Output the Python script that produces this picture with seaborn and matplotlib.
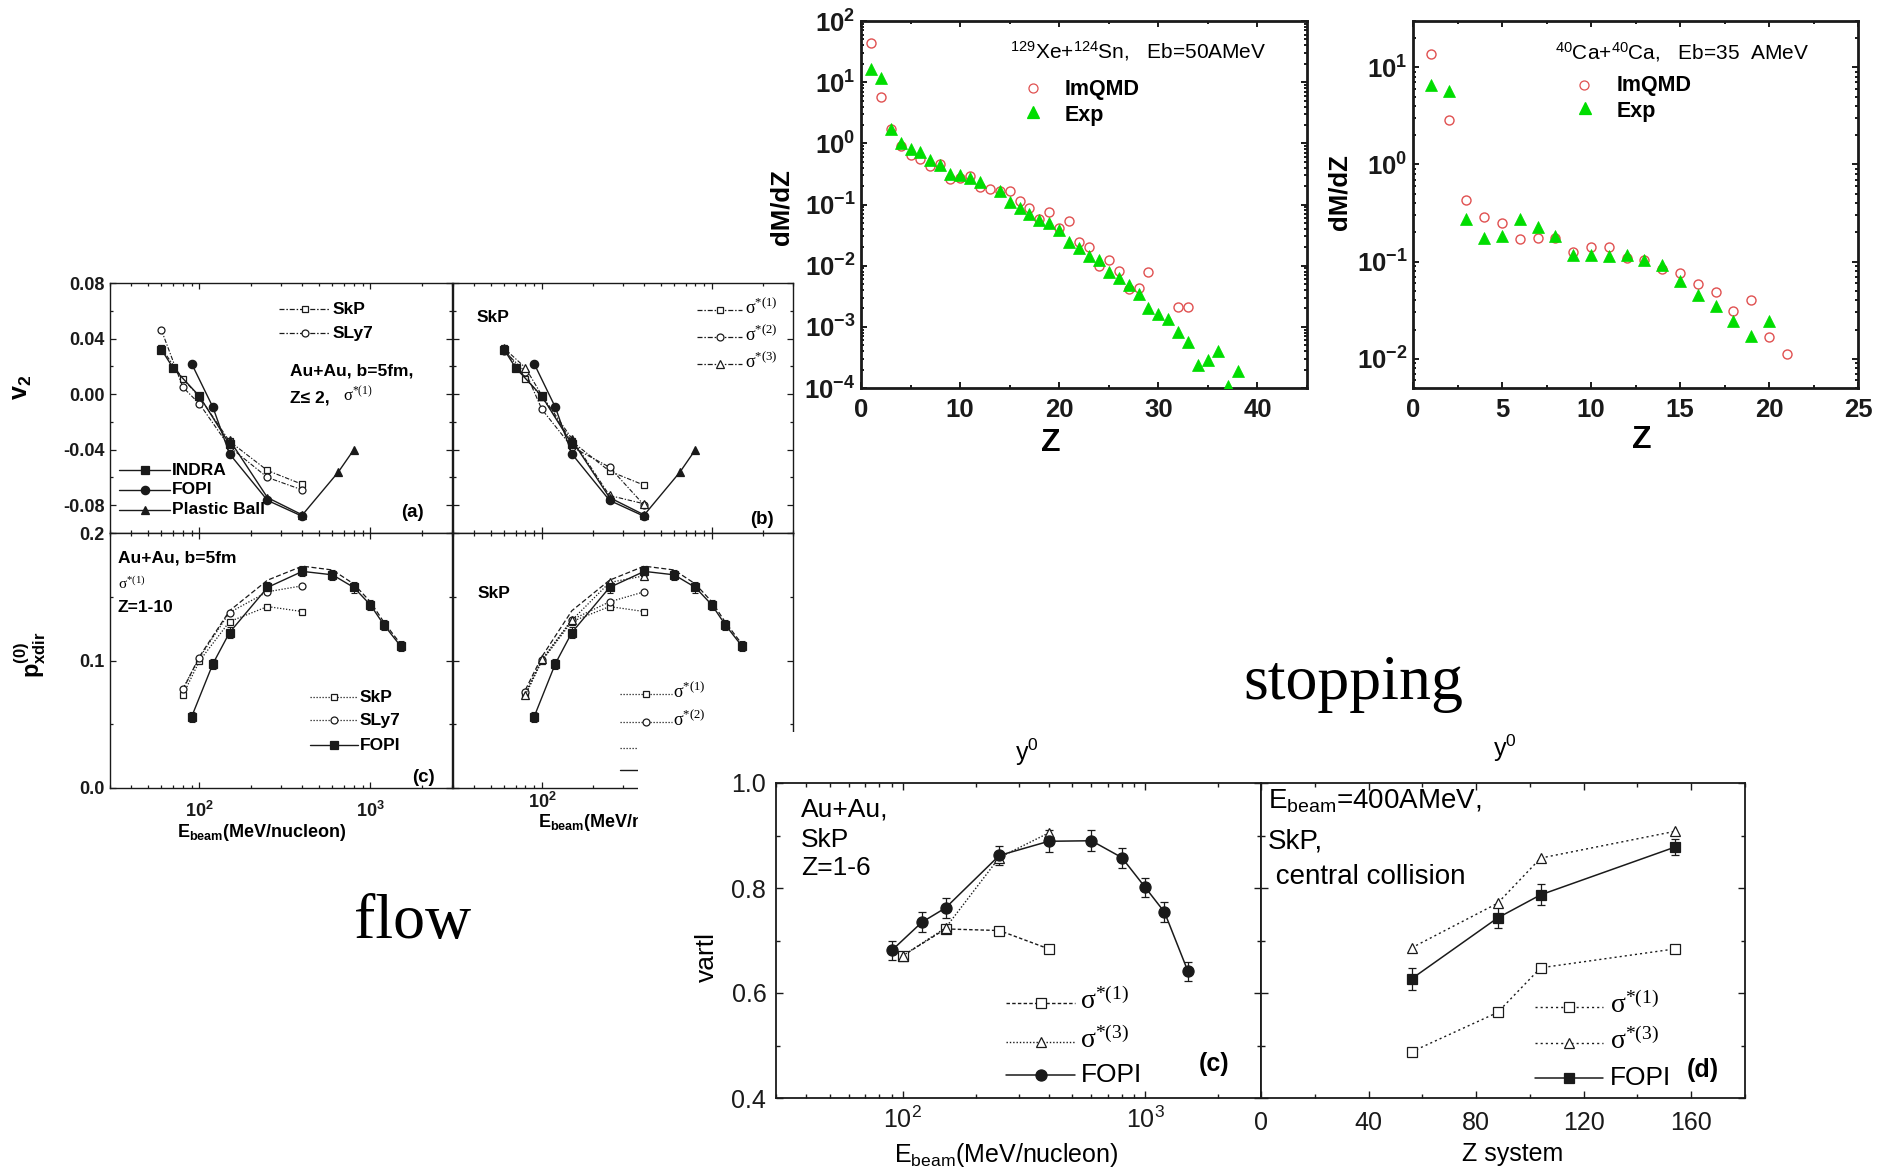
import numpy as np
import matplotlib
matplotlib.use('Agg')
import matplotlib.pyplot as plt
import matplotlib.ticker as mticker
from matplotlib.patches import Rectangle
from matplotlib.lines import Line2D
import seaborn as sns

# ===================== DATA =====================
# flow (a)/(b): elliptic flow v2 vs beam energy
indra_E = [60, 70, 100, 150]
indra_v2 = [0.032, 0.019, -0.0015, -0.036]
fopi_E = [90, 120, 150, 250, 400]
fopi_v2 = [0.022, -0.0095, -0.043, -0.0765, -0.088]
pball_E = [150, 250, 400, 650, 800]
pball_v2 = [-0.033, -0.0745, -0.087, -0.056, -0.040]
v2_model_E = [60, 80, 100, 150, 250, 400]
skp_v2 = [0.033, 0.011, -0.002, -0.034, -0.055, -0.065]
sly7_v2 = [0.046, 0.005, -0.007, -0.038, -0.060, -0.069]
sig1_v2 = [0.033, 0.011, -0.002, -0.034, -0.0555, -0.0656]
sig2_v2 = [0.031, 0.016, -0.011, -0.038, -0.0526, -0.080]
sig3_v2 = [0.033, 0.019, -0.001, -0.032, -0.073, -0.079]

# flow (c)/(d): directed flow p_xdir vs beam energy
fopi_px_E = [90, 120, 150, 250, 400, 600, 800, 1000, 1200, 1500]
fopi_px = [0.0558, 0.0975, 0.1219, 0.1573, 0.1699, 0.1672, 0.1573, 0.1436, 0.1279, 0.1114]
fopi_px_err = [0.004, 0.004, 0.004, 0.004, 0.004, 0.004, 0.004, 0.004, 0.004, 0.004]
px_model_E = [80, 100, 150, 250, 400]
skp_px = [0.0729, 0.0996, 0.1305, 0.1423, 0.1384]
sly7_px = [0.0778, 0.1022, 0.1376, 0.1539, 0.1586]
sig2_px = [0.075, 0.1001, 0.132, 0.146, 0.1539]
sig3_px = [0.0729, 0.101, 0.1316, 0.1612, 0.1664]
dash_px_E = [80, 100, 150, 250, 400, 600, 800, 1000, 1200, 1500]
dash_px = [0.077, 0.103, 0.139, 0.163, 0.174, 0.171, 0.160, 0.146, 0.130, 0.113]

# stopping: charge distributions
xe_imqmd_Z = [1, 2, 3, 4, 5, 6, 7, 8, 9, 10, 11, 12, 13, 14, 15, 16, 17, 18, 19, 20,
              21, 22, 23, 24, 25, 26, 27, 28, 29, 32, 33]
xe_imqmd = [43, 5.8, 1.7, 0.9, 0.65, 0.56, 0.42, 0.46, 0.26, 0.27, 0.29, 0.19, 0.18, 0.165,
            0.165, 0.116, 0.088, 0.057, 0.076, 0.041, 0.053, 0.024, 0.0205, 0.0098, 0.0126,
            0.0083, 0.0042, 0.0043, 0.0078, 0.0021, 0.0021]
xe_exp_Z = [1, 2, 3, 4, 5, 6, 7, 8, 9, 10, 11, 12, 14, 15, 16, 17, 18, 19, 20, 21, 22, 23,
            24, 25, 26, 27, 28, 29, 30, 31, 32, 33, 34, 35, 36, 37, 38]
xe_exp = [16.6, 11.8, 1.7, 1.0, 0.8, 0.72, 0.54, 0.45, 0.32, 0.30, 0.27, 0.23, 0.165, 0.11,
          0.088, 0.069, 0.055, 0.049, 0.039, 0.024, 0.0195, 0.0146, 0.0126, 0.0078, 0.0063,
          0.0048, 0.0034, 0.0020, 0.0016, 0.00135, 0.00082, 0.00056, 0.00024, 0.00029,
          0.0004, 0.000107, 0.00019]
ca_imqmd_Z = [1, 2, 3, 4, 5, 6, 7, 8, 9, 10, 11, 12, 13, 14, 15, 16, 17, 18, 19, 20, 21]
ca_imqmd = [13.7, 2.84, 0.43, 0.29, 0.248, 0.171, 0.175, 0.175, 0.125, 0.14, 0.143, 0.109,
            0.103, 0.084, 0.076, 0.059, 0.049, 0.031, 0.040, 0.0168, 0.0113]
ca_exp_Z = [1, 2, 3, 4, 5, 6, 7, 8, 9, 10, 11, 12, 13, 14, 15, 16, 17, 18, 19, 20]
ca_exp = [6.6, 5.7, 0.275, 0.174, 0.185, 0.275, 0.225, 0.185, 0.117, 0.117, 0.115, 0.117,
          0.103, 0.093, 0.0635, 0.0457, 0.0352, 0.0247, 0.0171, 0.0243]

# stopping (c): vartl vs beam energy
fopi_vt_E = [90, 120, 150, 250, 400, 600, 800, 1000, 1200, 1500]
fopi_vt = [0.681, 0.735, 0.762, 0.862, 0.889, 0.890, 0.858, 0.801, 0.754, 0.641]
fopi_vt_err = [0.019, 0.019, 0.019, 0.018, 0.021, 0.02, 0.019, 0.019, 0.019, 0.019]
vt_model_E = [100, 150, 250, 400]
sig1_vt = [0.671, 0.722, 0.719, 0.684]
sig3_vt = [0.671, 0.724, 0.858, 0.905]

# stopping (d): vartl vs Z of system
zsys = [56, 88, 104, 154]
fopi_zs = [0.627, 0.743, 0.787, 0.878]
fopi_zs_err = [0.021, 0.02, 0.02, 0.015]
sig3_zs = [0.686, 0.771, 0.857, 0.908]
sig1_zs = [0.488, 0.563, 0.648, 0.684]

# tick labels
v2_ticks = [-0.08, -0.04, 0.0, 0.04, 0.08]
px_ticks = [0.0, 0.1, 0.2]
vt_ticks = [0.4, 0.6, 0.8, 1.0]
zs_ticks = [0, 40, 80, 120, 160]

# ===================== STYLE =====================
sns.set_theme(style='ticks')
plt.rcParams.update({
    'font.family': ['Liberation Sans', 'DejaVu Sans'],
    'axes.unicode_minus': False,
    'mathtext.fontset': 'custom',
    'mathtext.rm': 'Liberation Sans',
    'mathtext.it': 'Liberation Sans:italic',
    'mathtext.bf': 'Liberation Sans:bold',
    'axes.facecolor': 'white', 'figure.facecolor': 'white',
    'axes.edgecolor': 'black', 'axes.labelcolor': 'black', 'text.color': 'black',
    'xtick.color': 'black', 'ytick.color': 'black',
})

W, H = 1887, 1172
fig = plt.figure(figsize=(W / 100, H / 100), dpi=100)


def frect(x0, y0, x1, y1):
    return [x0 / W, 1 - y1 / H, (x1 - x0) / W, (y1 - y0) / H]


def to_ax(r, px, py):
    x0, y0, x1, y1 = r
    return (px - x0) / (x1 - x0), (y1 - py) / (y1 - y0)


R = dict(fa=(110, 283, 452, 533), fb=(453, 283, 793, 533),
         fc=(110, 533, 452, 788), fd=(453, 533, 793, 788),
         s1=(861, 21, 1307, 388), s2=(1413, 21, 1858, 388),
         bc=(776, 783, 1261, 1098), bd=(1261, 783, 1745, 1098))

ax = {k: fig.add_axes(frect(*v)) for k, v in R.items()}
ax['bc'].set_zorder(2)
ax['bd'].set_zorder(2)

# white cover of the lower-right picture
fig.add_artist(Rectangle((638 / W, 0), (W - 638) / W, (H - 732) / H, transform=fig.transFigure,
                         facecolor='white', edgecolor='none', zorder=1))


def curve(a, x, y, marker=None, ls='-', filled=True, ms=5, lw=0.9, color='k', mew=0.9,
          mfc=None, z=3):
    kw = dict(color=color, linestyle=ls, linewidth=lw, legend=False, sort=False, zorder=z,
              errorbar=None)
    if marker:
        if mfc is None:
            mfc = color if filled else 'white'
        kw.update(marker=marker, markersize=ms, markerfacecolor=mfc, markeredgecolor=color,
                  markeredgewidth=mew)
    sns.lineplot(x=x, y=y, ax=a, **kw)


def key(x0, x1, y, ls, marker=None, filled=True, ms=5, lw=0.9, color='k', mfc=None, z=0.5):
    fig.add_artist(Line2D([x0 / W, x1 / W], [1 - y / H] * 2, transform=fig.transFigure,
                          color=color, ls=ls, lw=lw, zorder=z))
    if marker:
        if mfc is None:
            mfc = color if filled else 'white'
        xm = (x0 + x1) / 2
        fig.add_artist(Line2D([xm / W], [1 - y / H], transform=fig.transFigure, ls='none',
                              marker=marker, ms=ms, mfc=mfc, mec=color, mew=0.9, zorder=z + 0.1))


def T(x, y, s, size, weight='bold', family='Liberation Sans', ha='left', va='center', z=3):
    fig.text(x / W, 1 - y / H, s, fontsize=size, fontweight=weight, family=family,
             ha=ha, va=va, zorder=z)


def logx(a, lo, hi):
    a.set_xscale('log')
    a.set_xlim(lo, hi)
    a.xaxis.set_major_locator(mticker.LogLocator(base=10.0, numticks=12))
    a.xaxis.set_minor_locator(mticker.LogLocator(base=10.0, subs=(2, 3, 4, 5, 6, 7, 8, 9),
                                                 numticks=12))
    a.xaxis.set_major_formatter(mticker.LogFormatterSciNotation())
    a.xaxis.set_minor_formatter(mticker.NullFormatter())


def logy(a, lo, hi):
    a.set_yscale('log')
    a.set_ylim(lo, hi)
    a.yaxis.set_major_locator(mticker.LogLocator(base=10.0, numticks=12))
    a.yaxis.set_minor_locator(mticker.LogLocator(base=10.0, subs=(2, 3, 4, 5, 6, 7, 8, 9),
                                                 numticks=12))
    a.yaxis.set_major_formatter(mticker.LogFormatterSciNotation())
    a.yaxis.set_minor_formatter(mticker.NullFormatter())


def frame(a, lw, majlen, minlen, tw):
    a.grid(False)
    for s in a.spines.values():
        s.set_visible(True)
        s.set_linewidth(lw)
        s.set_color('k')
    a.tick_params(which='both', direction='in', top=True, right=True, width=tw, colors='k')
    a.tick_params(which='major', length=majlen)
    a.tick_params(which='minor', length=minlen)


# dash styles
DD = (0, (4, 1.5, 1.2, 1.5))
DOT = (0, (1, 1.4))
DSH = (0, (4, 2))
SDSH = (0, (2.5, 1.6))

# ===================== FLOW (a) =====================
a = ax['fa']
curve(a, v2_model_E, skp_v2, 's', DD, filled=False, ms=5, lw=0.8)
curve(a, v2_model_E, sly7_v2, 'o', DD, filled=False, ms=5, lw=0.8)
curve(a, indra_E, indra_v2, 's', '-', ms=5.5, lw=1.0)
curve(a, fopi_E, fopi_v2, 'o', '-', ms=6, lw=1.0)
curve(a, pball_E, pball_v2, '^', '-', ms=6, lw=1.0)

# ===================== FLOW (b) =====================
a = ax['fb']
curve(a, v2_model_E, sig1_v2, 's', DD, filled=False, ms=5, lw=0.8)
curve(a, v2_model_E, sig2_v2, 'o', DD, filled=False, ms=5, lw=0.8)
curve(a, v2_model_E, sig3_v2, '^', DD, filled=False, ms=5.5, lw=0.8)
curve(a, indra_E, indra_v2, 's', '-', ms=5.5, lw=1.0)
curve(a, fopi_E, fopi_v2, 'o', '-', ms=6, lw=1.0)
curve(a, pball_E, pball_v2, '^', '-', ms=6, lw=1.0)

for k in ('fa', 'fb'):
    a = ax[k]
    logx(a, 30, 3000)
    a.set_ylim(-0.1, 0.08)
    a.yaxis.set_major_locator(mticker.FixedLocator(v2_ticks))
    a.yaxis.set_major_formatter(mticker.FormatStrFormatter('%.2f'))
    a.yaxis.set_minor_locator(mticker.MultipleLocator(0.02))
    frame(a, 1.0, 4.5, 2.5, 0.9)
    a.tick_params(labelbottom=False, labelsize=13, pad=4)
ax['fb'].tick_params(labelleft=False)

# ===================== FLOW (c) =====================
a = ax['fc']
curve(a, dash_px_E, dash_px, None, DSH, lw=0.9)
curve(a, px_model_E, skp_px, 's', DOT, filled=False, ms=5, lw=0.9)
curve(a, px_model_E, sly7_px, 'o', DOT, filled=False, ms=5, lw=0.9)
a.errorbar(fopi_px_E, fopi_px, yerr=fopi_px_err, fmt='none', ecolor='k', elinewidth=0.8,
           capsize=2, capthick=0.8, zorder=2)
curve(a, fopi_px_E, fopi_px, 's', '-', ms=5.5, lw=1.0)

# ===================== FLOW (d) =====================
a = ax['fd']
curve(a, dash_px_E, dash_px, None, DSH, lw=0.9)
curve(a, px_model_E, skp_px, 's', DOT, filled=False, ms=5, lw=0.9)
curve(a, px_model_E, sig2_px, 'o', DOT, filled=False, ms=5, lw=0.9)
curve(a, px_model_E, sig3_px, '^', DOT, filled=False, ms=5.5, lw=0.9)
a.errorbar(fopi_px_E, fopi_px, yerr=fopi_px_err, fmt='none', ecolor='k', elinewidth=0.8,
           capsize=2, capthick=0.8, zorder=2)
curve(a, fopi_px_E, fopi_px, 's', '-', ms=5.5, lw=1.0)

for k in ('fc', 'fd'):
    a = ax[k]
    logx(a, 30, 3000)
    a.set_ylim(0.0, 0.2)
    a.yaxis.set_major_locator(mticker.FixedLocator(px_ticks))
    a.yaxis.set_major_formatter(mticker.FormatStrFormatter('%.1f'))
    a.yaxis.set_minor_locator(mticker.MultipleLocator(0.05))
    frame(a, 1.0, 4.5, 2.5, 0.9)
    a.tick_params(labelsize=13)
    a.tick_params(axis='y', pad=4)
ax['fc'].tick_params(axis='x', pad=9)
ax['fd'].tick_params(axis='x', pad=3)
ax['fd'].tick_params(labelleft=False)

ax['fa'].set_ylabel(r'$\mathdefault{v_{2}}$', fontsize=18, fontweight='bold')
ax['fa'].yaxis.set_label_coords(*to_ax(R['fa'], 34, 387))
ax['fc'].set_ylabel(r'$\mathdefault{p^{(0)}_{xdir}}$', fontsize=17, fontweight='bold')
ax['fc'].yaxis.set_label_coords(*to_ax(R['fc'], 48, 655))
ax['fc'].set_xlabel(r'$\mathdefault{E_{beam}}$(MeV/nucleon)', fontsize=13, fontweight='bold')
ax['fc'].xaxis.set_label_coords(*to_ax(R['fc'], 262, 822))
ax['fd'].set_xlabel(r'$\mathdefault{E_{beam}}$(MeV/nucleon)', fontsize=13, fontweight='bold')
ax['fd'].xaxis.set_label_coords(*to_ax(R['fd'], 623, 812))

# flow legends & annotations
SIG = 'Liberation Serif'
key(279, 330, 309, DD, 's', filled=False)
T(333, 309, 'SkP', 12.5)
key(279, 330, 333, DD, 'o', filled=False)
T(333, 333, 'SLy7', 12.5)
T(290, 371, 'Au+Au, b=5fm,', 12.5)
T(290, 398, 'Z\u2264 2,', 12.5)
T(343, 395, r'$\mathdefault{\sigma^{*(1)}}$', 12, weight='normal', family=SIG)
key(119, 170, 470, '-', 's', ms=5.5, lw=1.0)
T(172, 470, 'INDRA', 12.5)
key(119, 170, 490, '-', 'o', ms=6, lw=1.0)
T(172, 490, 'FOPI', 12.5)
key(119, 170, 510, '-', '^', ms=6, lw=1.0)
T(172, 510, 'Plastic Ball', 12.5)
T(401, 512, '(a)', 13.5)

T(477, 318, 'SkP', 12.5)
key(697, 742, 310, DD, 's', filled=False)
T(745, 308, r'$\mathdefault{\sigma^{*(1)}}$', 13, weight='normal', family=SIG)
key(697, 742, 337, DD, 'o', filled=False)
T(745, 335, r'$\mathdefault{\sigma^{*(2)}}$', 13, weight='normal', family=SIG)
key(697, 742, 364, DD, '^', filled=False, ms=5.5)
T(745, 362, r'$\mathdefault{\sigma^{*(3)}}$', 13, weight='normal', family=SIG)
T(750, 519, '(b)', 13.5)

T(118, 558, 'Au+Au, b=5fm', 12.5)
T(118, 584, r'$\mathdefault{\sigma^{*(1)}}$', 11, weight='normal', family=SIG)
T(118, 608, 'Z=1-10', 12.5)
key(310, 358, 697, DOT, 's', filled=False)
T(360, 697, 'SkP', 12.5)
key(310, 358, 720, DOT, 'o', filled=False)
T(360, 720, 'SLy7', 12.5)
key(310, 358, 745, '-', 's', ms=5.5, lw=1.0)
T(360, 745, 'FOPI', 12.5)
T(412, 777, '(c)', 13.5)

T(478, 593, 'SkP', 12.5)
key(620, 672, 694, DOT, 's', filled=False)
T(673, 692, r'$\mathdefault{\sigma^{*(1)}}$', 13, weight='normal', family=SIG)
key(620, 672, 722, DOT, 'o', filled=False)
T(673, 720, r'$\mathdefault{\sigma^{*(2)}}$', 13, weight='normal', family=SIG)
key(620, 672, 748, DOT, '^', filled=False, ms=5.5)
T(673, 746, r'$\mathdefault{\sigma^{*(3)}}$', 13, weight='normal', family=SIG, z=0.5)
key(620, 672, 770, '-', 's', ms=5.5, lw=1.0)
T(673, 770, 'FOPI', 12.5, z=0.5)

# ===================== STOPPING top panels =====================
RED = '#e05050'
GREEN = '#00dd00'
a = ax['s1']
curve(a, xe_imqmd_Z, xe_imqmd, 'o', 'none', ms=6.5, color=RED, mfc='none', mew=1.0)
curve(a, xe_exp_Z, xe_exp, '^', 'none', ms=8, color=GREEN, mfc=GREEN, mew=0.5)
a.set_xlim(0, 45)
logy(a, 1e-4, 1e2)
a.xaxis.set_major_locator(mticker.MultipleLocator(10))
a.xaxis.set_minor_locator(mticker.MultipleLocator(5))

a = ax['s2']
curve(a, ca_imqmd_Z, ca_imqmd, 'o', 'none', ms=6.5, color=RED, mfc='none', mew=1.0)
curve(a, ca_exp_Z, ca_exp, '^', 'none', ms=8, color=GREEN, mfc=GREEN, mew=0.5)
a.set_xlim(0, 25)
logy(a, 0.005, 30)
a.xaxis.set_major_locator(mticker.MultipleLocator(5))
a.xaxis.set_minor_locator(mticker.MultipleLocator(2.5))

for k in ('s1', 's2'):
    a = ax[k]
    frame(a, 2.0, 4.5, 2.3, 1.4)
    a.tick_params(labelsize=18.5)
    a.tick_params(axis='x', pad=7)
    a.tick_params(axis='y', pad=4)
    a.set_ylabel('dM/dZ', fontsize=18.5, fontweight='bold')
    a.set_xlabel('Z', fontsize=23, fontweight='bold')
ax['s1'].yaxis.set_label_coords(*to_ax(R['s1'], 793, 207))
ax['s1'].xaxis.set_label_coords(*to_ax(R['s1'], 1051, 428))
ax['s2'].yaxis.set_label_coords(*to_ax(R['s2'], 1351, 192))
ax['s2'].xaxis.set_label_coords(*to_ax(R['s2'], 1642, 425))

T(1010, 51, r'$\mathdefault{^{129}}$Xe+$\mathdefault{^{124}}$Sn,   Eb=50AMeV', 15, weight='normal')
key(1025, 1041, 88, 'none', 'o', mfc='none', ms=6.5, color=RED)
T(1065, 89, 'ImQMD', 15.5)
key(1025, 1041, 112, 'none', '^', mfc=GREEN, ms=8, color=GREEN)
T(1065, 115, 'Exp', 15.5)

T(1555, 52, r'$\mathdefault{^{40}}$Ca+$\mathdefault{^{40}}$Ca,   Eb=35  AMeV', 15, weight='normal')
key(1576, 1592, 85, 'none', 'o', mfc='none', ms=6.5, color=RED)
T(1617, 86, 'ImQMD', 15.5)
key(1577, 1593, 108, 'none', '^', mfc=GREEN, ms=8, color=GREEN)
T(1617, 111, 'Exp', 15.5)

# ===================== STOPPING bottom panels =====================
a = ax['bc']
curve(a, vt_model_E, sig1_vt, 's', SDSH, filled=False, ms=7, lw=1.0)
curve(a, vt_model_E, sig3_vt, '^', DOT, filled=False, ms=7.5, lw=1.0)
a.errorbar(fopi_vt_E, fopi_vt, yerr=fopi_vt_err, fmt='none', ecolor='k', elinewidth=0.9,
           capsize=3, capthick=0.9, zorder=2)
curve(a, fopi_vt_E, fopi_vt, 'o', '-', ms=8, lw=1.1)
logx(a, 30, 3000)

a = ax['bd']
curve(a, zsys, sig1_zs, 's', (0, (1.5, 2.2)), filled=False, ms=6.5, lw=1.0)
curve(a, zsys, sig3_zs, '^', (0, (1.5, 2.2)), filled=False, ms=7.5, lw=1.0)
a.errorbar(zsys, fopi_zs, yerr=fopi_zs_err, fmt='none', ecolor='k', elinewidth=0.9,
           capsize=3, capthick=0.9, zorder=2)
curve(a, zsys, fopi_zs, 's', '-', ms=7, lw=1.1)
a.set_xlim(0, 180)
a.xaxis.set_major_locator(mticker.FixedLocator(zs_ticks))
a.xaxis.set_minor_locator(mticker.MultipleLocator(20))

for k in ('bc', 'bd'):
    a = ax[k]
    a.set_facecolor('white')
    a.set_ylim(0.4, 1.0)
    a.yaxis.set_major_locator(mticker.FixedLocator(vt_ticks))
    a.yaxis.set_major_formatter(mticker.FormatStrFormatter('%.1f'))
    a.yaxis.set_minor_locator(mticker.MultipleLocator(0.1))
    frame(a, 1.3, 5, 3, 1.0)
    a.tick_params(labelsize=18)
    a.tick_params(axis='y', pad=7)
ax['bc'].tick_params(axis='x', pad=6)
ax['bd'].tick_params(axis='x', pad=9)
ax['bd'].tick_params(labelleft=False)

ax['bc'].set_ylabel('vartl', fontsize=19)
ax['bc'].yaxis.set_label_coords(*to_ax(R['bc'], 719, 957))
ax['bc'].set_xlabel(r'$\mathdefault{E_{beam}}$(MeV/nucleon)', fontsize=18)
ax['bc'].xaxis.set_label_coords(*to_ax(R['bc'], 1006, 1141))
ax['bd'].set_xlabel('Z system', fontsize=18)
ax['bd'].xaxis.set_label_coords(*to_ax(R['bd'], 1513, 1142))

T(1027, 752, r'y$\mathdefault{^{0}}$', 18, weight='normal', ha='center')
T(1505, 748, r'y$\mathdefault{^{0}}$', 18, weight='normal', ha='center')

T(801, 810, 'Au+Au,', 19, weight='normal')
T(801, 840, 'SkP', 19, weight='normal')
T(801, 868, 'Z=1-6', 19, weight='normal')
key(1006, 1075, 1003, SDSH, 's', filled=False, ms=7, lw=1.0, z=2.5)
T(1080, 1001, r'$\mathdefault{\sigma^{*(1)}}$', 20, weight='normal', family=SIG)
key(1006, 1075, 1042, DOT, '^', filled=False, ms=7.5, lw=1.0, z=2.5)
T(1080, 1040, r'$\mathdefault{\sigma^{*(3)}}$', 20, weight='normal', family=SIG)
key(1006, 1075, 1075, '-', 'o', ms=8, lw=1.1, z=2.5)
T(1081, 1075, 'FOPI', 19, weight='normal')
T(1199, 1064, '(c)', 18)

T(1268, 801, r'$\mathdefault{E_{beam}}$=400AMeV,', 20, weight='normal')
T(1268, 842, 'SkP,', 20, weight='normal')
T(1268, 877, ' central collision', 20, weight='normal')
key(1535, 1603, 1007, (0, (1.5, 2.2)), 's', filled=False, ms=6.5, lw=1.0, z=2.5)
T(1610, 1005, r'$\mathdefault{\sigma^{*(1)}}$', 20, weight='normal', family=SIG)
key(1535, 1603, 1043, (0, (1.5, 2.2)), '^', filled=False, ms=7.5, lw=1.0, z=2.5)
T(1610, 1041, r'$\mathdefault{\sigma^{*(3)}}$', 20, weight='normal', family=SIG)
key(1535, 1603, 1078, '-', 's', ms=7, lw=1.1, z=2.5)
T(1610, 1078, 'FOPI', 19, weight='normal')
T(1687, 1070, '(d)', 18)

# big labels
T(413, 938, 'flow', 46, weight='normal', family='Liberation Serif', ha='center', va='baseline')
T(1353, 699, 'stopping', 46, weight='normal', family='Liberation Serif', ha='center',
  va='baseline')

# tick label weights
for k in ('fa', 'fb', 'fc', 'fd', 's1', 's2'):
    plt.setp(ax[k].get_xticklabels() + ax[k].get_yticklabels(), fontweight='bold')
for k in ('bc', 'bd'):
    plt.setp(ax[k].get_xticklabels() + ax[k].get_yticklabels(), fontweight='normal')

fig.savefig('out.png', dpi=100, facecolor='white')
